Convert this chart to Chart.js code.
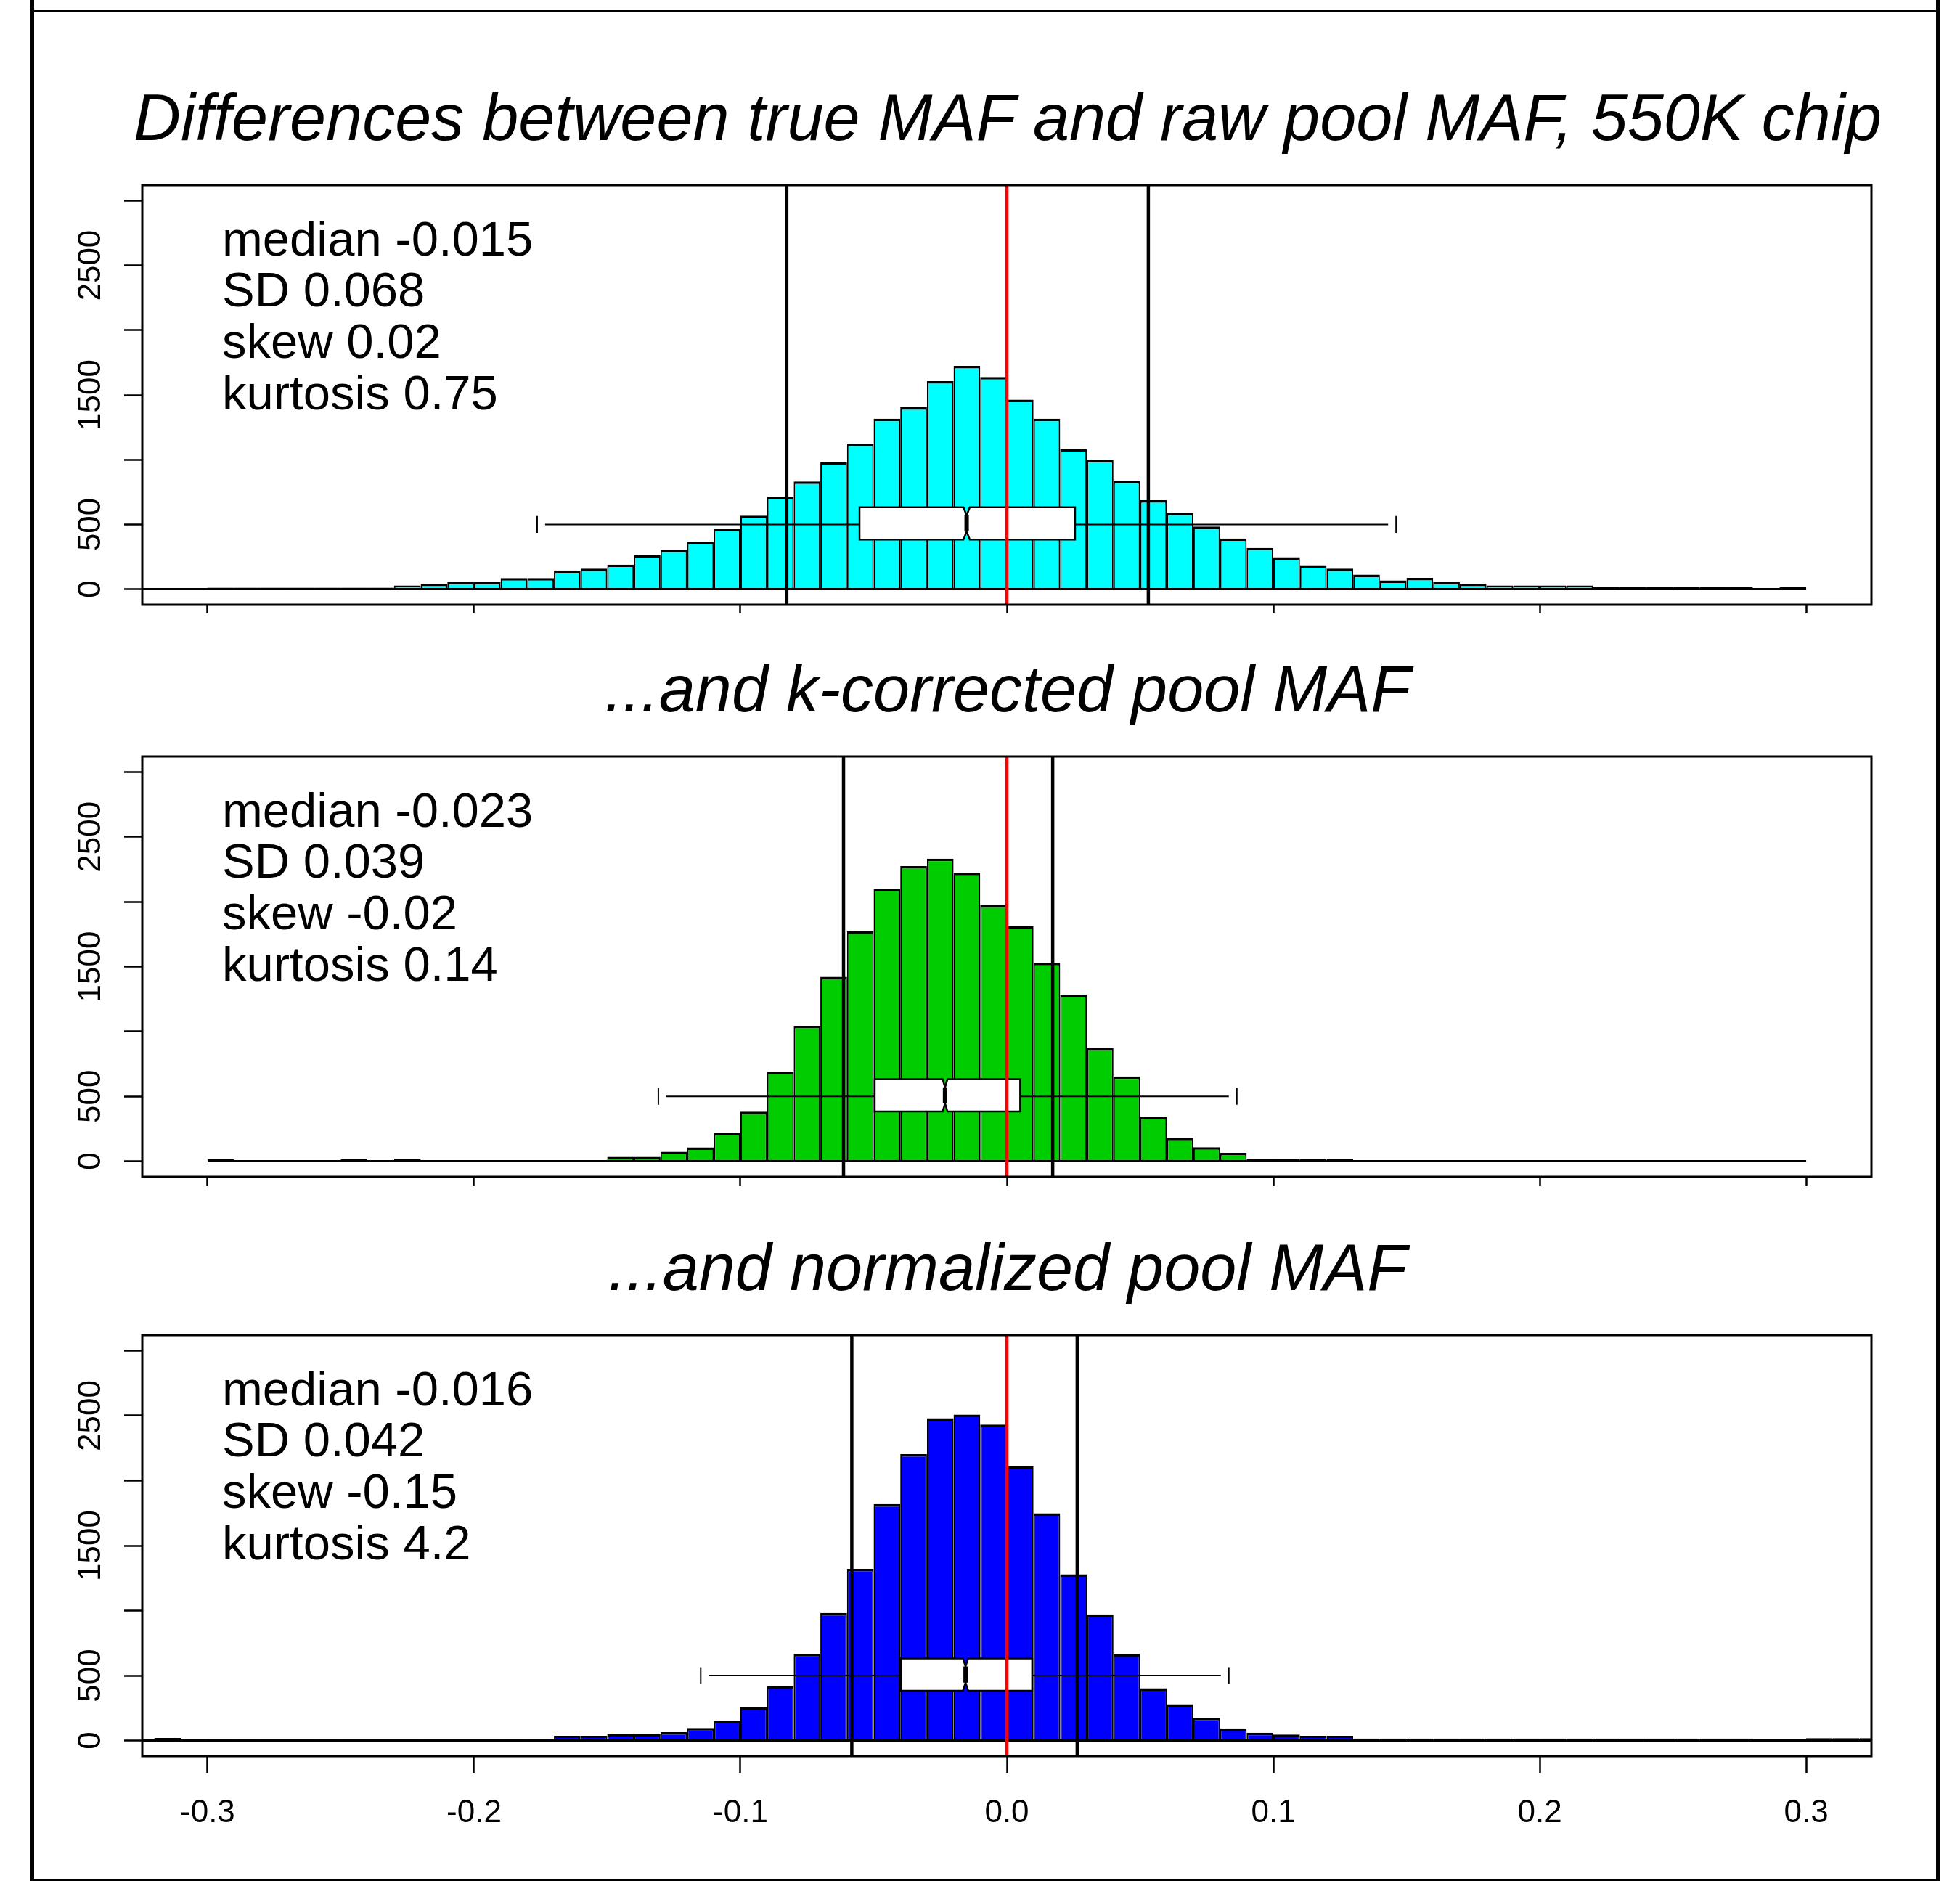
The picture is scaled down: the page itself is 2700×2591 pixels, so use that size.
<!DOCTYPE html>
<html>
<head>
<meta charset="utf-8">
<script src="https://cdn.jsdelivr.net/npm/chart.js@4.4.1/dist/chart.umd.min.js"></script>
<style>
html, body { margin: 0; padding: 0; background: #fff; }
#page { position: relative; width: 2700px; height: 2591px; overflow: hidden; background: #fff;
  font-family: "Liberation Sans", Arial, Helvetica, sans-serif; color: #000; }
canvas.panel { position: absolute; left: 0; top: 0; }
.t { position: absolute; line-height: 0; white-space: nowrap; color: #000; }
.frame { position: absolute; background: #000; }
</style>
</head>
<body>
<div id="page">
  <div class="frame" style="left:42px;top:0;width:5px;height:2591px"></div>
  <div class="frame" style="left:2667px;top:0;width:5px;height:2591px"></div>
  <div class="frame" style="left:42px;top:14px;width:2630px;height:2px"></div>
  <div class="frame" style="left:42px;top:2588px;width:2630px;height:3px"></div>
  <canvas class="panel" id="c0" width="2700" height="2591"></canvas>
  <canvas class="panel" id="c1" width="2700" height="2591"></canvas>
  <canvas class="panel" id="c2" width="2700" height="2591"></canvas>
</div>
<script>
// ---------------- data ----------------
const BIN_WIDTH = 0.01;
const binLefts = [
  -0.33, -0.32, -0.31, -0.30, -0.29, -0.28, -0.27, -0.26, -0.25, -0.24, -0.23,
  -0.22, -0.21, -0.20, -0.19, -0.18, -0.17, -0.16, -0.15, -0.14, -0.13, -0.12,
  -0.11, -0.10, -0.09, -0.08, -0.07, -0.06, -0.05, -0.04, -0.03, -0.02, -0.01,
  0.00, 0.01, 0.02, 0.03, 0.04, 0.05, 0.06, 0.07, 0.08, 0.09, 0.10,
  0.11, 0.12, 0.13, 0.14, 0.15, 0.16, 0.17, 0.18, 0.19, 0.20, 0.21,
  0.22, 0.23, 0.24, 0.25, 0.26, 0.27, 0.28, 0.29, 0.30, 0.31, 0.32
];
const rawCounts = [
  0, 0, 0, 12, 12, 12, 12, 12, 12, 12, 28,
  42, 55, 55, 86, 86, 145, 159, 190, 262, 305, 365,
  467, 568, 713, 832, 980, 1125, 1317, 1405, 1607, 1724, 1639,
  1464, 1317, 1082, 997, 835, 687, 587, 484, 392, 318, 247,
  185, 159, 113, 68, 87, 55, 42, 29, 29, 29, 29,
  15, 15, 15, 15, 15, 15, 3, 15, null, null, null
];
const kCorrectedCounts = [
  null, null, null, 15, 0, 0, 0, 0, 15, 0, 15,
  0, 8, 8, 8, 8, 8, 8, 34, 34, 73, 106,
  221, 382, 690, 1044, 1422, 1771, 2100, 2275, 2332, 2223, 1973,
  1812, 1529, 1285, 873, 653, 345, 181, 108, 64, 15, 15,
  15, 15, 5, 5, 5, 5, 5, 5, 5, 5, 5,
  5, 5, 5, 5, 5, 5, 5, 5, null, null, null
];
const normalizedCounts = [
  0, 20, 0, 10, 10, 10, 10, 10, 10, 10, 10,
  10, 10, 10, 10, 10, 37, 37, 51, 51, 64, 97,
  152, 254, 417, 666, 982, 1321, 1820, 2204, 2480, 2509, 2431,
  2111, 1748, 1280, 971, 662, 402, 280, 176, 93, 60, 46,
  37, 37, 15, 15, 15, 15, 15, 15, 15, 15, 15,
  15, 15, 15, 15, 15, 15, 0, 0, 18, 18, 18
];
const seriesCounts = [rawCounts, kCorrectedCounts, normalizedCounts];
const seriesColors = ['#00FFFF', '#00CD00', '#0000FF'];

const xTickValues = [-0.3, -0.2, -0.1, 0.0, 0.1, 0.2, 0.3];
const xTickLabels = ['-0.3', '-0.2', '-0.1', '0.0', '0.1', '0.2', '0.3'];
const yTickValues = [0, 500, 1000, 1500, 2000, 2500, 3000];
const yTickLabels = ['0', '500', '', '1500', '', '2500', ''];

const panelTitles = [
  'Differences between true MAF and raw pool MAF, 550K chip',
  '...and k-corrected pool MAF',
  '...and normalized pool MAF'
];
const panelStats = [
  ['median -0.015', 'SD 0.068', 'skew 0.02', 'kurtosis 0.75'],
  ['median -0.023', 'SD 0.039', 'skew -0.02', 'kurtosis 0.14'],
  ['median -0.016', 'SD 0.042', 'skew -0.15', 'kurtosis 4.2']
];
// vertical black lines (interval bounds) and red reference line
const intervalLines = [[-0.0826, 0.0531], [-0.0613, 0.0172], [-0.0582, 0.0264]];
const referenceLine = 0;
// boxplot: [lower whisker, Q1, median, Q3, upper whisker]
const boxStats = [
  [-0.1763, -0.0553, -0.0151, 0.0256, 0.1461],
  [-0.1308, -0.0496, -0.0232, 0.0050, 0.0863],
  [-0.1149, -0.0398, -0.0155, 0.0095, 0.0833]
];
const notchHalfWidths = [0.0012, 0.0009, 0.0010];

// ---------------- layout / style ----------------
Chart.defaults.font.family = "'Liberation Sans', Arial, Helvetica, sans-serif";
Chart.defaults.color = '#000';

const AREA_LEFT = 196, AREA_RIGHT = 2578, PAGE_W = 2700, PAGE_H = 2591;
const Y_AXIS_W = 150, X_AXIS_H = 120;
const X_MIN = -0.3245, X_MAX = 0.3245, Y_MIN = -120, Y_MAX = 3120;
const panelLayout = [
  { top: 255, bottom: 833, tickLen: 12, labels: false },
  { top: 1042, bottom: 1621, tickLen: 12, labels: false },
  { top: 1839, bottom: 2419, tickLen: 23, labels: true }
];
const BOX_AT = 500, BOX_LO = 383, BOX_HI = 632, STAPLE_HALF = 65, WHISKER_GAP = 11;

const page = document.getElementById('page');
function addText(str, x, baseline, size, italic, center) {
  const d = document.createElement('div');
  d.className = 't';
  d.textContent = str;
  d.style.fontSize = size + 'px';
  d.style.top = (baseline - 0.3465 * size) + 'px';
  d.style.left = x + 'px';
  if (italic) d.style.fontStyle = 'italic';
  if (center) d.style.transform = 'translateX(-50%)';
  page.appendChild(d);
}

panelLayout.forEach((L, p) => {
  addText(panelTitles[p], 1388, L.top - 62, 90, true, true);
  panelStats[p].forEach((s, k) => addText(s, 306, L.top + 97 + k * 70.7, 67, false, false));
});

function extrasPlugin(p) {
  return {
    id: 'extras' + p,
    afterDatasetsDraw(chart) {
      const ctx = chart.ctx, a = chart.chartArea;
      const xs = chart.scales.x, ys = chart.scales.y;
      const X = v => xs.getPixelForValue(v), Y = v => ys.getPixelForValue(v);
      const counts = seriesCounts[p];
      let first = -1, last = -1;
      counts.forEach((c, i) => { if (c !== null) { if (first < 0) first = i; last = i; } });
      ctx.save();
      ctx.beginPath(); ctx.rect(a.left, a.top, a.right - a.left, a.bottom - a.top); ctx.clip();
      // histogram baseline
      ctx.strokeStyle = '#000'; ctx.lineWidth = 3;
      ctx.beginPath();
      ctx.moveTo(X(binLefts[first]), Y(0));
      ctx.lineTo(X(binLefts[last] + BIN_WIDTH), Y(0));
      ctx.stroke();

      // boxplot
      const [wLo, q1, med, q3, wHi] = boxStats[p];
      const yW = Y(BOX_AT), yTop = Y(BOX_HI), yBot = Y(BOX_LO);
      const yMid = (yTop + yBot) / 2, halfH = (yBot - yTop) / 2;
      const nx = X(med + notchHalfWidths[p]) - X(med);
      ctx.lineWidth = 2;
      ctx.beginPath();
      ctx.moveTo(X(wLo) + WHISKER_GAP, yW); ctx.lineTo(X(q1), yW);
      ctx.moveTo(X(q3), yW); ctx.lineTo(X(wHi) - WHISKER_GAP, yW);
      ctx.stroke();
      ctx.beginPath();
      ctx.moveTo(X(wLo), Y(BOX_AT + STAPLE_HALF)); ctx.lineTo(X(wLo), Y(BOX_AT - STAPLE_HALF));
      ctx.moveTo(X(wHi), Y(BOX_AT + STAPLE_HALF)); ctx.lineTo(X(wHi), Y(BOX_AT - STAPLE_HALF));
      ctx.stroke();
      const xm = X(med);
      ctx.beginPath();
      ctx.moveTo(X(q1), yTop);
      ctx.lineTo(xm - nx, yTop);
      ctx.lineTo(xm, yMid - halfH / 2);
      ctx.lineTo(xm + nx, yTop);
      ctx.lineTo(X(q3), yTop);
      ctx.lineTo(X(q3), yBot);
      ctx.lineTo(xm + nx, yBot);
      ctx.lineTo(xm, yMid + halfH / 2);
      ctx.lineTo(xm - nx, yBot);
      ctx.lineTo(X(q1), yBot);
      ctx.closePath();
      ctx.fillStyle = '#fff'; ctx.fill();
      ctx.lineWidth = 2.5; ctx.stroke();
      ctx.lineWidth = 6;
      ctx.beginPath(); ctx.moveTo(xm, yMid - halfH / 2); ctx.lineTo(xm, yMid + halfH / 2); ctx.stroke();

      // vertical lines
      ctx.lineWidth = 4.5;
      ctx.strokeStyle = '#000';
      intervalLines[p].forEach(v => {
        ctx.beginPath(); ctx.moveTo(X(v), a.top); ctx.lineTo(X(v), a.bottom); ctx.stroke();
      });
      ctx.strokeStyle = '#FF0000';
      ctx.beginPath(); ctx.moveTo(X(referenceLine), a.top); ctx.lineTo(X(referenceLine), a.bottom); ctx.stroke();
      ctx.restore();

      // plot frame
      ctx.save();
      ctx.strokeStyle = '#000'; ctx.lineWidth = 3;
      ctx.strokeRect(a.left, a.top, a.right - a.left, a.bottom - a.top);
      ctx.restore();
    }
  };
}

panelLayout.forEach((L, p) => {
  const counts = seriesCounts[p];
  const data = binLefts.map((l, i) => ({ x: l + BIN_WIDTH / 2, y: counts[i] }));
  new Chart(document.getElementById('c' + p), {
    type: 'bar',
    data: {
      datasets: [{
        data: data,
        backgroundColor: seriesColors[p],
        borderColor: '#000',
        borderWidth: { top: 3.5, left: 2, right: 2, bottom: 0 },
        borderSkipped: false,
        barPercentage: 1,
        categoryPercentage: 1,
        inflateAmount: 0,
        clip: 0
      }]
    },
    options: {
      responsive: false,
      animation: false,
      devicePixelRatio: 1,
      events: [],
      layout: {
        padding: {
          left: AREA_LEFT - Y_AXIS_W,
          right: PAGE_W - AREA_RIGHT,
          top: L.top,
          bottom: PAGE_H - L.bottom - X_AXIS_H
        }
      },
      plugins: { legend: { display: false }, tooltip: { enabled: false }, title: { display: false } },
      scales: {
        x: {
          type: 'linear', min: X_MIN, max: X_MAX, offset: false,
          afterBuildTicks: s => { s.ticks = xTickValues.map(v => ({ value: v })); },
          afterFit: s => { s.height = X_AXIS_H; },
          grid: { offset: false, drawOnChartArea: false, drawTicks: true, tickLength: L.tickLen, tickWidth: 2.5, tickColor: '#000' },
          border: { display: false },
          ticks: {
            display: L.labels, autoSkip: false, minRotation: 0, maxRotation: 0, padding: 29,
            font: { size: 44 }, color: '#000',
            callback: v => { const i = xTickValues.findIndex(t => Math.abs(t - v) < 1e-9); return i >= 0 ? xTickLabels[i] : ''; }
          }
        },
        y: {
          type: 'linear', min: Y_MIN, max: Y_MAX,
          afterBuildTicks: s => { s.ticks = yTickValues.map(v => ({ value: v })); },
          afterFit: s => { s.width = Y_AXIS_W; },
          grid: { drawOnChartArea: false, drawTicks: true, tickLength: 25, tickWidth: 2.5, tickColor: '#000' },
          border: { display: false },
          ticks: {
            autoSkip: false, minRotation: 90, maxRotation: 90, crossAlign: 'center', padding: -4,
            font: { size: 44 }, color: '#000',
            callback: v => { const i = yTickValues.indexOf(v); return i >= 0 ? yTickLabels[i] : ''; }
          }
        }
      }
    },
    plugins: [extrasPlugin(p)]
  });
});
</script>
</body>
</html>
